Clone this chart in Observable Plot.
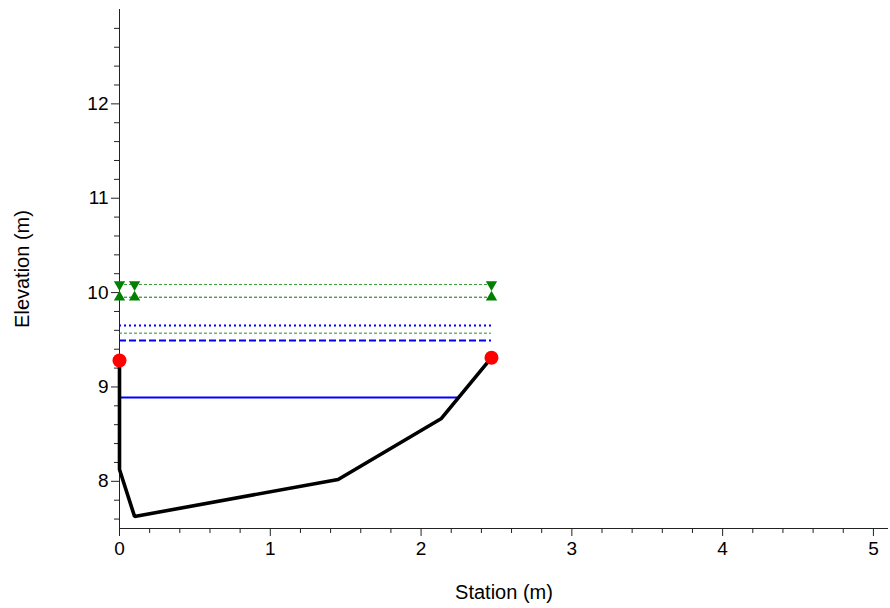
<!DOCTYPE html>
<html><head><meta charset="utf-8">
<script src="https://cdn.jsdelivr.net/npm/d3@7"></script>
<script src="https://cdn.jsdelivr.net/npm/@observablehq/plot@0.6"></script>
<style>body{margin:0;background:#fff;} svg{display:block;}</style>
</head><body><div id="chart"></div>
<script>
// Ground profile (station m, elevation m)
const groundStation = [0, 0, 0.1, 1.45, 2.135, 2.467];
const groundElev = [9.28, 8.125, 7.627, 8.02, 8.666, 9.31];
// Bank points
const bankStation = [0, 2.467];
const bankElev = [9.28, 9.31];
// Horizontal levels
const levelNames = ["waterSurface", "levelDashed", "levelThinGreen", "levelDotted", "levelGreenLow", "levelGreenHigh"];
const levelElev = [8.888, 9.492, 9.570, 9.651, 9.951, 10.086];
const levelEnd = [2.25, 2.467, 2.467, 2.467, 2.467, 2.467];
// Triangle markers
const markerStation = [0, 0.1, 2.467];
const markerHighElev = 10.086;
const markerLowElev = 9.951;
// Ticks
const xMajor = [0, 1, 2, 3, 4, 5];
const yMajor = [8, 9, 10, 11, 12];

const ground = groundStation.map((x, i) => ({x, y: groundElev[i]}));
const banks = bankStation.map((x, i) => ({x, y: bankElev[i]}));
const levels = levelNames.map((name, i) => ({name, y: levelElev[i], x1: 0, x2: levelEnd[i]}));
const lv = name => levels.filter(d => d.name === name);
const markersHigh = markerStation.map(x => ({x, y: markerHighElev}));
const markersLow = markerStation.map(x => ({x, y: markerLowElev}));

const xMinor = d3.range(1, 26).map(i => Math.round(i * 2) / 10).filter(v => Math.abs(v - Math.round(v)) > 1e-9);
const yMinor = d3.range(38, 65).map(i => Math.round(i * 2) / 10).filter(v => Math.abs(v - Math.round(v)) > 1e-9 && v < 13);

const axisColor = "#222";
const tickFont = 19;
const titleFont = 20;
const fmt = d3.format("d");

const chart = Plot.plot({
  width: 890,
  height: 608,
  marginLeft: 119,
  marginRight: 2,
  marginTop: 9,
  marginBottom: 80,
  style: {fontFamily: "'Liberation Sans', Arial, sans-serif", color: axisColor, background: "#fff"},
  x: {domain: [0, 5.1], label: null},
  y: {domain: [7.5, 13], label: null},
  marks: [
    Plot.axisX({ticks: xMinor, tickSize: 5, tickFormat: () => "", label: null}),
    Plot.axisX({ticks: xMajor, tickSize: 8, tickPadding: 5, fontSize: tickFont, tickFormat: fmt, label: null, fill: "#000"}),
    Plot.axisY({ticks: yMinor, tickSize: 5, tickFormat: () => "", label: null}),
    Plot.axisY({ticks: yMajor, tickSize: 8, tickPadding: 3, fontSize: tickFont, tickFormat: fmt, label: null, fill: "#000"}),
    Plot.ruleY([7.5], {stroke: axisColor, strokeWidth: 1}),
    Plot.ruleX([0], {stroke: axisColor, strokeWidth: 1}),
    Plot.text(["Station (m)"], {frameAnchor: "bottom", textAnchor: "middle", dy: 70, fontSize: titleFont, fill: "#000"}),
    Plot.text(["Elevation (m)"], {frameAnchor: "left", textAnchor: "middle", lineAnchor: "middle", dx: -97, rotate: -90, fontSize: titleFont, fill: "#000"}),
    // levels
    Plot.ruleY(lv("levelGreenHigh"), {y: "y", x1: "x1", x2: "x2", stroke: "#3a9a3a", strokeWidth: 1, strokeDasharray: "3,2"}),
    Plot.ruleY(lv("levelGreenLow"), {y: "y", x1: "x1", x2: "x2", stroke: "#0b6e0b", strokeWidth: 1, strokeDasharray: "3,2"}),
    Plot.ruleY(lv("levelDotted"), {y: "y", x1: "x1", x2: "x2", stroke: "#0000ff", strokeWidth: 2, strokeDasharray: "2,3"}),
    Plot.ruleY(lv("levelThinGreen"), {y: "y", x1: "x1", x2: "x2", stroke: "#2e8b2e", strokeWidth: 1, strokeDasharray: "3,2"}),
    Plot.ruleY(lv("levelDashed"), {y: "y", x1: "x1", x2: "x2", stroke: "#0000ff", strokeWidth: 2, strokeDasharray: "7,3"}),
    Plot.ruleY(lv("waterSurface"), {y: "y", x1: "x1", x2: "x2", stroke: "#0000ff", strokeWidth: 2}),
    // ground
    Plot.line(ground, {x: "x", y: "y", stroke: "#000", strokeWidth: 3.6, strokeLinejoin: "miter"}),
    Plot.dot(banks, {x: "x", y: "y", r: 7, fill: "#ff0000", stroke: "none"}),
    Plot.dot(markersHigh, {x: "x", y: "y", symbol: "triangle", rotate: 180, r: 4.2, fill: "#008000", stroke: "none"}),
    Plot.dot(markersLow, {x: "x", y: "y", symbol: "triangle", r: 4.2, fill: "#008000", stroke: "none"})
  ]
});
document.getElementById("chart").appendChild(chart);
</script>
</body></html>
